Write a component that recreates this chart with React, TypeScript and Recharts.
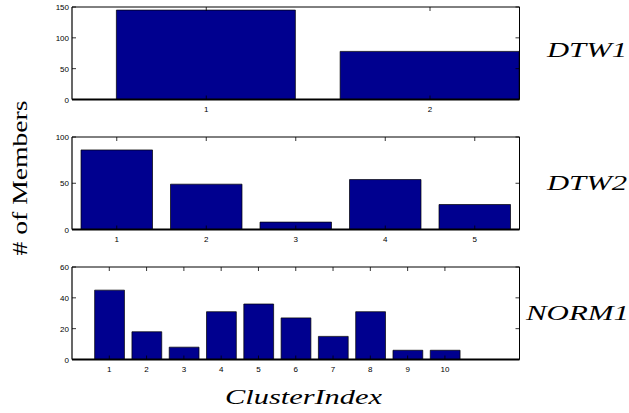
import React from "react";
import { BarChart, Bar, XAxis, YAxis } from "recharts";

// cluster sizes
const dtw1Clusters = [1, 2];
const dtw1Members = [145, 78];

const dtw2Clusters = [1, 2, 3, 4, 5];
const dtw2Members = [86, 49, 8, 54, 27];

const norm1Clusters = [1, 2, 3, 4, 5, 6, 7, 8, 9, 10];
const norm1Members = [45, 18, 8, 31, 36, 27, 15, 31, 6, 6];

const dtw1YTicks = [0, 50, 100, 150];
const dtw2YTicks = [0, 50, 100];
const norm1YTicks = [0, 20, 40, 60];

const BAR_FILL = "#00008f";
const PLOT_LEFT = 72;
const PLOT_RIGHT = 519.5;
const PLOT_H = 92.5;
const PAD_TOP = 4;
const AXIS_H = 22;
const W = 629;

const tickFont = { fontFamily: "'Liberation Sans', Arial, sans-serif", fontSize: 8, fill: "#000" };

const BottomTick = (props: any) => {
  const { x, y, payload } = props;
  return (
    <g>
      <line x1={x} y1={y} x2={x} y2={y - 4} stroke="#000" strokeWidth={0.8} />
      <text x={x} y={y + 12} textAnchor="middle" {...tickFont}>
        {payload.value}
      </text>
    </g>
  );
};

// inward ticks on the top edge of the box
const TopTick = (props: any) => {
  const { x, y } = props;
  return <line x1={x} y1={y} x2={x} y2={y + 4} stroke="#000" strokeWidth={0.8} />;
};

const LeftTick = (props: any) => {
  const { x, y, payload } = props;
  return (
    <g>
      <line x1={x} y1={y} x2={x + 4} y2={y} stroke="#000" strokeWidth={0.8} />
      <text x={x - 3} y={y + 3} textAnchor="end" {...tickFont}>
        {payload.value}
      </text>
    </g>
  );
};

const RightTick = (props: any) => {
  const { x, y } = props;
  return <line x1={x} y1={y} x2={x - 4} y2={y} stroke="#000" strokeWidth={0.8} />;
};

interface PanelProps {
  top: number;
  clusters: number[];
  members: number[];
  xDomain: [number, number];
  yTicks: number[];
  barSize: number;
}

function Panel({ top, clusters, members, xDomain, yTicks, barSize }: PanelProps) {
  const data = clusters.map((c, i) => ({ cluster: c, members: members[i] }));
  const yDomain: [number, number] = [yTicks[0], yTicks[yTicks.length - 1]];
  return (
    <div style={{ position: "absolute", left: 0, top: top - PAD_TOP }}>
      <BarChart
        width={W}
        height={PAD_TOP + PLOT_H + AXIS_H}
        data={data}
        margin={{ top: PAD_TOP - 1, right: W - PLOT_RIGHT - 1, bottom: 0, left: 0 }}
      >
        <XAxis
          dataKey="cluster"
          type="number"
          domain={xDomain}
          ticks={clusters}
          allowDataOverflow
          height={AXIS_H}
          tickSize={0}
          tickMargin={0}
          tickLine={false}
          tick={<BottomTick />}
          axisLine={{ stroke: "#000", strokeWidth: 1.8 }}
          interval={0}
        />
        <XAxis
          xAxisId="top"
          orientation="top"
          dataKey="cluster"
          type="number"
          domain={xDomain}
          ticks={clusters}
          allowDataOverflow
          height={1}
          tickSize={0}
          tickMargin={0}
          tickLine={false}
          tick={<TopTick />}
          axisLine={{ stroke: "#000", strokeWidth: 1 }}
          interval={0}
        />
        <YAxis
          type="number"
          domain={yDomain}
          ticks={yTicks}
          allowDataOverflow
          width={PLOT_LEFT}
          tickSize={0}
          tickMargin={0}
          tickLine={false}
          tick={<LeftTick />}
          axisLine={{ stroke: "#000", strokeWidth: 1.2 }}
          interval={0}
        />
        <YAxis
          yAxisId="right"
          orientation="right"
          type="number"
          domain={yDomain}
          ticks={yTicks}
          allowDataOverflow
          width={1}
          tickSize={0}
          tickMargin={0}
          tickLine={false}
          tick={<RightTick />}
          axisLine={{ stroke: "#000", strokeWidth: 1 }}
          interval={0}
        />
        <Bar
          dataKey="members"
          fill={BAR_FILL}
          stroke="#000"
          strokeWidth={0.7}
          barSize={barSize}
          isAnimationActive={false}
        />
      </BarChart>
    </div>
  );
}

const mathFont = { fontFamily: "'Liberation Serif', 'DejaVu Serif', serif", fontStyle: "italic" as const, fill: "#000" };

export default function App() {
  return (
    <div style={{ position: "absolute", left: 0, top: 0, width: W, height: 413, background: "#fff", overflow: "hidden" }}>
      <Panel top={6.5} clusters={dtw1Clusters} members={dtw1Members} xDomain={[0.4, 2.4]} yTicks={dtw1YTicks} barSize={179} />
      <Panel top={137} clusters={dtw2Clusters} members={dtw2Members} xDomain={[0.5, 5.5]} yTicks={dtw2YTicks} barSize={71.5} />
      <Panel top={267} clusters={norm1Clusters} members={norm1Members} xDomain={[0, 12]} yTicks={norm1YTicks} barSize={29.8} />
      <svg width={W} height={413} style={{ position: "absolute", left: 0, top: 0, pointerEvents: "none" }}>
        <text x={547} y={57} fontSize={20} textLength={80} lengthAdjust="spacingAndGlyphs" {...mathFont}>
          DTW1
        </text>
        <text x={547} y={190} fontSize={20} textLength={80} lengthAdjust="spacingAndGlyphs" {...mathFont}>
          DTW2
        </text>
        <text x={526} y={320} fontSize={20} textLength={103} lengthAdjust="spacingAndGlyphs" {...mathFont}>
          NORM1
        </text>
        <text x={225} y={404} fontSize={20} textLength={157} lengthAdjust="spacingAndGlyphs" {...mathFont}>
          ClusterIndex
        </text>
        <text
          transform="translate(27,178) rotate(-90)"
          textAnchor="middle"
          fontSize={22}
          textLength={155}
          lengthAdjust="spacingAndGlyphs"
          fontFamily="'Liberation Serif', 'DejaVu Serif', serif"
          fill="#000"
        >
          # of Members
        </text>
      </svg>
    </div>
  );
}
